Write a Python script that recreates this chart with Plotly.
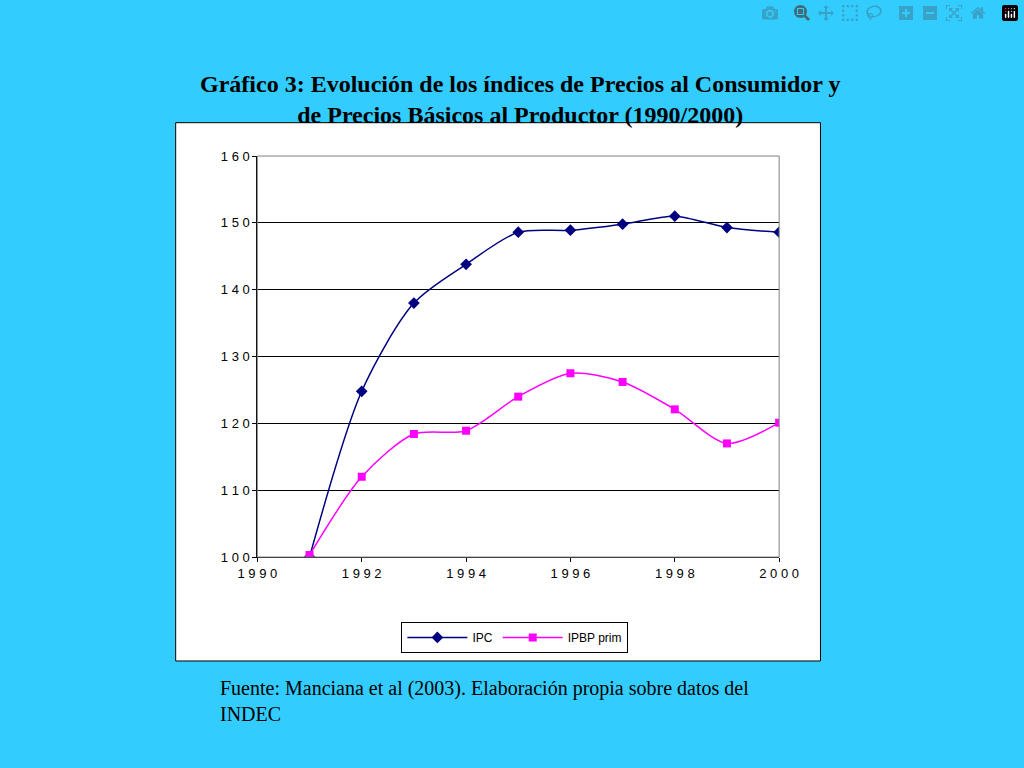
import plotly.graph_objects as go

years = [1991,1992,1993,1994,1995,1996,1997,1998,1999,2000]
ipc = [100,124.8,138,143.8,148.6,148.9,149.8,151,149.3,148.6]
ipbp = [100.3,112,118.4,118.9,124,127.5,126.2,122.1,117,120.1]
yticks = [100,110,120,130,140,150,160]
xticks = [1990,1992,1994,1996,1998,2000]

W,H=1024,768
def px(x): return x/W
def py(y): return 1-y/H

fig = go.Figure()
fig.add_trace(go.Scatter(x=years,y=ipc,name="IPC",mode="lines+markers",line=dict(color="#000080",width=1.5,shape="spline",smoothing=0.8),marker=dict(symbol="diamond",size=9,color="#000080")))
fig.add_trace(go.Scatter(x=years,y=ipbp,name="IPBP prim",mode="lines+markers",line=dict(color="#FF00FF",width=1.5,shape="spline",smoothing=0.8),marker=dict(symbol="square",size=8,color="#FF00FF")))

sp = lambda v: " ".join(str(v))
fig.update_layout(
    width=W,height=H,margin=dict(l=0,r=0,t=0,b=0),
    paper_bgcolor="#33CCFF",plot_bgcolor="#C0C0C0",
    font=dict(family="Liberation Sans",size=13,color="black"),
    xaxis=dict(domain=[px(247),px(790)],range=[1990,2000],tickvals=xticks,ticktext=[sp(v) for v in xticks],
               showgrid=False,zeroline=False,showline=True,linecolor="black",ticks="outside",ticklen=4,tickcolor="black"),
    yaxis=dict(domain=[py(561),py(152)],range=[100,160],tickvals=yticks,ticktext=[sp(v) for v in yticks],
               showgrid=True,gridcolor="black",gridwidth=1,zeroline=False,showline=True,linecolor="black",ticks="outside",ticklen=4,tickcolor="black"),
    legend=dict(orientation="h",x=px(515),y=py(643),xanchor="center",yanchor="middle",bgcolor="white",bordercolor="black",borderwidth=1,font=dict(size=12),itemwidth=60),
    shapes=[dict(type="rect",xref="paper",yref="paper",x0=px(162),x1=px(833),y0=py(667),y1=py(118),fillcolor="white",line=dict(color="black",width=1),layer="below"),
            dict(type="rect",xref="paper",yref="paper",x0=px(247),x1=px(790),y0=py(561),y1=py(152),line=dict(color="gray",width=1))],
    annotations=[
        dict(text="<b>Gráfico 3: Evolución de los índices de Precios al Consumidor y<br>de Precios Básicos al Productor (1990/2000)</b>",xref="paper",yref="paper",x=px(520),y=py(63),showarrow=False,font=dict(family="Liberation Serif",size=24),align="center"),
        dict(text="Fuente: Manciana et al (2003). Elaboración propia sobre datos del<br>INDEC",xref="paper",yref="paper",x=px(206),y=py(734),xanchor="left",showarrow=False,font=dict(family="Liberation Serif",size=20),align="left"),
    ],
)
fig.write_html("out.html", post_script="document.body.style.margin='0';document.body.style.overflow='hidden';document.body.style.background='#33CCFF';")
